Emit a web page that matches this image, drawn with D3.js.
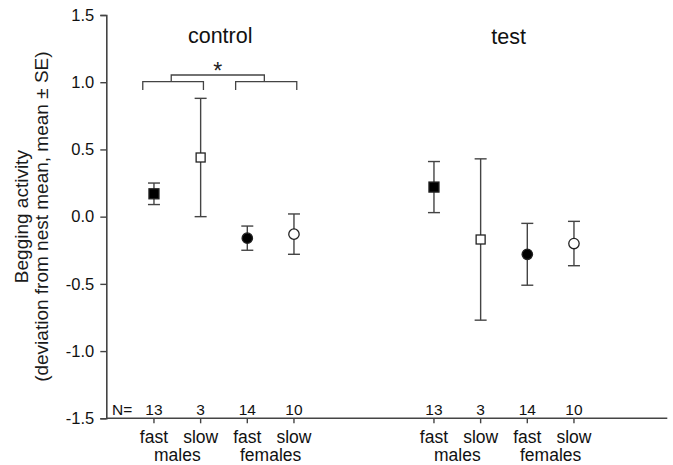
<!DOCTYPE html>
<html>
<head>
<meta charset="utf-8">
<script src="https://d3js.org/d3.v7.min.js"></script>
<style>
  html, body { margin: 0; padding: 0; background: #fff; }
  svg { display: block; font-family: "Liberation Sans", Arial, sans-serif; }
</style>
</head>
<body>
<svg id="chart" width="673" height="465"></svg>
<script>
// Groups and the four bird categories within each group
const groups = ["control", "test"];
const speeds = ["fast", "slow", "fast", "slow"];
const sexes = ["males", "females"];

// Means and standard errors of begging activity (deviation from nest mean)
const controlMean = [0.17, 0.44, -0.16, -0.13];
const controlSE   = [0.08, 0.44, 0.09, 0.15];
const testMean    = [0.22, -0.17, -0.28, -0.20];
const testSE      = [0.19, 0.60, 0.23, 0.165];

// Sample sizes
const controlN = [13, 3, 14, 10];
const testN    = [13, 3, 14, 10];

// Marker style per category: filled/open square for males, filled/open circle for females
const markerShape = ["square", "square", "circle", "circle"];
const markerFill  = ["#000", "#fff", "#000", "#fff"];

// Y tick values
const yTicks = [-1.5, -1.0, -0.5, 0.0, 0.5, 1.0, 1.5];

// Slot index of each point along the x axis
const slotControl = [0, 1, 2, 3];
const slotTest = [6, 7, 8, 9];

const svg = d3.select("#chart");
const ink = "#444";
const txt = "#111";

const x = d3.scaleLinear().domain([-1, 11]).range([107.3, 667.3]);
const y = d3.scaleLinear().domain([-1.5, 1.5]).range([418.3, 15]);

// Y axis
const yAxis = d3.axisLeft(y).tickValues(yTicks).tickSize(6).tickPadding(6)
  .tickFormat(d => d3.format(".1f")(d).replace("\u2212", "-"));
const gy = svg.append("g").attr("transform", `translate(${x(-1) - 1},0)`).call(yAxis);
gy.select(".domain").attr("stroke", ink).attr("stroke-width", 1.6);
gy.selectAll(".tick line").attr("stroke", ink).attr("stroke-width", 1.4);
gy.selectAll(".tick text").attr("font-size", 16.5).attr("fill", txt)
  .attr("font-family", "Liberation Sans, Arial, sans-serif");

// X axis line with short ticks at each category
const allSlots = slotControl.concat(slotTest);
svg.append("line")
  .attr("x1", x(-1) - 1).attr("x2", x(11))
  .attr("y1", y(-1.5)).attr("y2", y(-1.5))
  .attr("stroke", ink).attr("stroke-width", 1.6);
svg.selectAll(".xtick").data(allSlots).join("line")
  .attr("class", "xtick")
  .attr("x1", d => x(d)).attr("x2", d => x(d))
  .attr("y1", y(-1.5)).attr("y2", y(-1.5) + 5)
  .attr("stroke", ink).attr("stroke-width", 1.4);

// Speed labels under each tick and sex labels under each pair
svg.selectAll(".speed").data(allSlots).join("text")
  .attr("class", "speed")
  .attr("x", d => x(d)).attr("y", 443)
  .attr("text-anchor", "middle").attr("font-size", 17.5).attr("fill", txt)
  .text((d, i) => speeds[i % 4]);
const sexPos = [0.5, 2.5, 6.5, 8.5];
svg.selectAll(".sex").data(sexPos).join("text")
  .attr("class", "sex")
  .attr("x", d => x(d)).attr("y", 461)
  .attr("text-anchor", "middle").attr("font-size", 17.5).attr("fill", txt)
  .text((d, i) => sexes[i % 2]);

// Sample sizes just above the x axis
svg.append("text").attr("x", 112).attr("y", 415)
  .attr("font-size", 15.5).attr("fill", txt).text("N=");
const allN = controlN.concat(testN);
svg.selectAll(".nlab").data(allSlots).join("text")
  .attr("class", "nlab")
  .attr("x", d => x(d)).attr("y", 415)
  .attr("text-anchor", "middle").attr("font-size", 15.5).attr("fill", txt)
  .text((d, i) => allN[i]);

// Group titles
svg.append("text").attr("x", x(1.42)).attr("y", 43)
  .attr("text-anchor", "middle").attr("font-size", 21.5).attr("fill", txt).text(groups[0]);
svg.append("text").attr("x", x(7.6)).attr("y", 44)
  .attr("text-anchor", "middle").attr("font-size", 21.5).attr("fill", txt).text(groups[1]);

// Y axis title (two lines)
const yl = svg.append("text")
  .attr("transform", `translate(0,${y(0)}) rotate(-90)`)
  .attr("text-anchor", "middle").attr("font-size", 19).attr("fill", "#1a1a1a");
yl.append("tspan").attr("x", 0).attr("y", 28).text("Begging activity");
yl.append("tspan").attr("x", 0).attr("y", 48).text("(deviation from nest mean, mean \u00b1 SE)");

// Error bars and markers
const rows = [];
slotControl.forEach((s, i) => rows.push({ slot: s, m: controlMean[i], se: controlSE[i], k: i }));
slotTest.forEach((s, i) => rows.push({ slot: s, m: testMean[i], se: testSE[i], k: i }));

const cap = 6;
const eb = svg.append("g").attr("stroke", ink).attr("stroke-width", 1.4).attr("fill", "none");
rows.forEach(r => {
  const cx = x(r.slot);
  eb.append("line").attr("x1", cx).attr("x2", cx).attr("y1", y(r.m + r.se)).attr("y2", y(r.m - r.se));
  eb.append("line").attr("x1", cx - cap).attr("x2", cx + cap).attr("y1", y(r.m + r.se)).attr("y2", y(r.m + r.se));
  eb.append("line").attr("x1", cx - cap).attr("x2", cx + cap).attr("y1", y(r.m - r.se)).attr("y2", y(r.m - r.se));
});

const mk = svg.append("g");
rows.forEach(r => {
  const cx = x(r.slot), cy = y(r.m);
  if (markerShape[r.k] === "square") {
    const s = r.k === 0 ? 10 : 9;
    mk.append("rect").attr("x", cx - s / 2).attr("y", cy - s / 2).attr("width", s).attr("height", s)
      .attr("fill", markerFill[r.k]).attr("stroke", "#222").attr("stroke-width", 1.3);
  } else {
    mk.append("circle").attr("cx", cx).attr("cy", cy).attr("r", 5.2)
      .attr("fill", markerFill[r.k]).attr("stroke", "#222").attr("stroke-width", 1.3);
  }
});

// Significance bracket: males vs females in the control group
const br = svg.append("g").attr("stroke", ink).attr("stroke-width", 1.3).attr("fill", "none");
const bracketPairs = [[-0.24, 1.06], [1.75, 3.06]];
const yLow = 90, yMid = 81.7, yTop = 75;
bracketPairs.forEach(([a, b]) => {
  br.append("path").attr("d", `M${x(a)},${yLow}V${yMid}H${x(b)}V${yLow}`);
});
const topA = (bracketPairs[0][0] + bracketPairs[0][1]) / 2 - 0.04;
const topB = (bracketPairs[1][0] + bracketPairs[1][1]) / 2 - 0.04;
br.append("path").attr("d", `M${x(topA)},${yMid}V${yTop}H${x(topB)}V${yMid}`);
svg.append("text").attr("x", (x(topA) + x(topB)) / 2).attr("y", 78.5)
  .attr("text-anchor", "middle").attr("font-size", 23).attr("fill", "#222").text("*");
</script>
</body>
</html>
